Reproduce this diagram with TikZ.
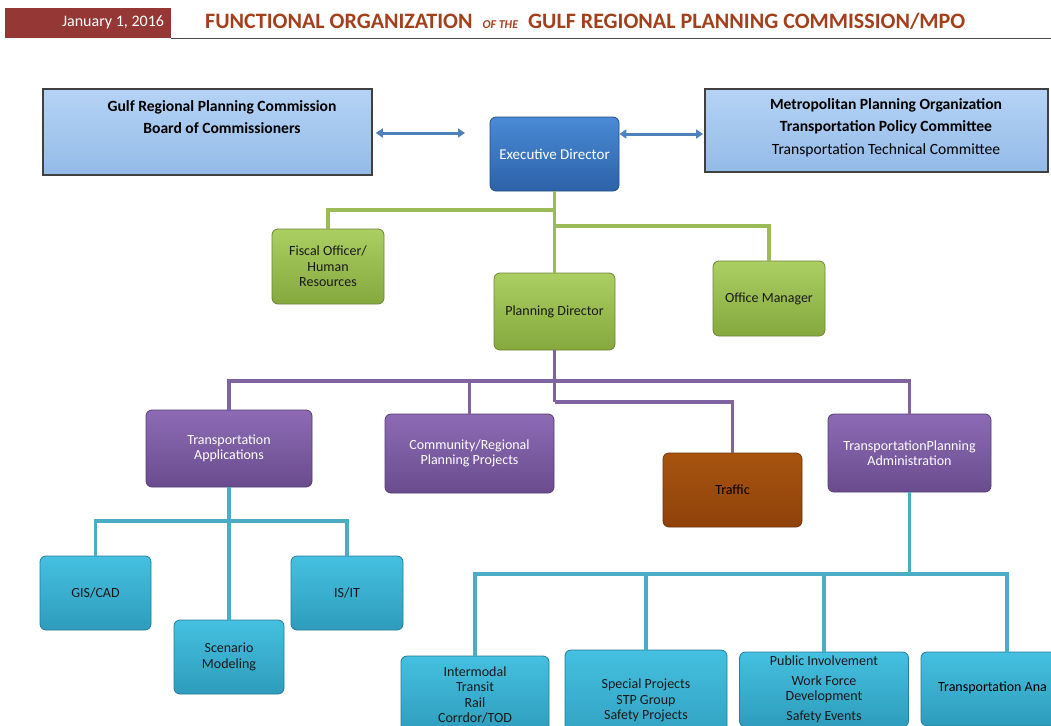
\documentclass[tikz,border=0pt]{standalone}
\usepackage{fontspec}
\setmainfont{Carlito}
\usetikzlibrary{arrows.meta}
\definecolor{hdrred}{HTML}{953735}
\definecolor{titlec}{HTML}{A3401C}
\definecolor{lbtop}{HTML}{B5D3F5}
\definecolor{lbbot}{HTML}{93BBE8}
\definecolor{arrc}{HTML}{4F81BD}
\definecolor{edtop}{HTML}{4A8AD6}
\definecolor{edbot}{HTML}{2C62A8}
\definecolor{gline}{HTML}{9BBB59}
\definecolor{gtop}{HTML}{ABCF62}
\definecolor{gbot}{HTML}{86A83E}
\definecolor{pline}{HTML}{8064A2}
\definecolor{ptop}{HTML}{8C6BB4}
\definecolor{pbot}{HTML}{6A4C8E}
\definecolor{ttop}{HTML}{A85410}
\definecolor{tbot}{HTML}{8E420A}
\definecolor{cline}{HTML}{4BACC6}
\definecolor{ctop}{HTML}{45C0E0}
\definecolor{cbot}{HTML}{2E9CBC}
\begin{document}
\begin{tikzpicture}[x=1pt,y=-1pt,
  txt/.style={font=\fontsize{14}{15.5}\selectfont, align=center},
  bigtxt/.style={font=\fontsize{15.6}{22.5}\selectfont, align=center},
  lightbox/.style={draw=black!75, line width=1.6pt, top color=lbtop, bottom color=lbbot},
  rbox/.style={rounded corners=6pt, line width=0.8pt, txt},
  execbox/.style={rbox, draw=edbot!80!black, top color=edtop, bottom color=edbot, text=white},
  greenbox/.style={rbox, draw=gbot!80!black, top color=gtop, bottom color=gbot, text=black!90},
  purplebox/.style={rbox, draw=pbot!80!black, top color=ptop, bottom color=pbot, text=white},
  trafficbox/.style={rbox, draw=tbot!80!black, top color=ttop, bottom color=tbot, text=black},
  cyanbox/.style={rbox, draw=cbot!80!black, top color=ctop, bottom color=cbot, text=black!90},
  gconn/.style={draw=gline, line width=3.5pt},
  pconn/.style={draw=pline, line width=3.5pt},
  cconn/.style={draw=cline, line width=3.5pt},
  arr/.style={draw=arrc, line width=3pt, {Triangle[width=9pt,length=7pt]}-{Triangle[width=9pt,length=7pt]}}
]
\useasboundingbox (0,0) rectangle (1051,725);
\clip (0,0) rectangle (1051,725);

% header
\fill[hdrred] (5,8) rectangle (171,38);
\node[text=white, font=\fontsize{16}{18}\selectfont] (date) at (113,22) {January 1, 2016};
\draw[black!70, line width=1pt] (171,38.5) -- (1051,38.5);
\node[anchor=base west, text=titlec, inner sep=0pt] (title) at (205,28.5)
  {\fontsize{22}{24}\selectfont\bfseries FUNCTIONAL ORGANIZATION\hspace{10pt}{\fontsize{12}{14}\selectfont\itshape OF THE}\hspace{10pt}GULF REGIONAL PLANNING COMMISSION/MPO};

% top row
\node[lightbox, minimum width=329pt, minimum height=86pt] (bc) at (207.5,132) {};
\node[bigtxt, font=\fontsize{15.6}{22}\selectfont\bfseries] (bctext) at (222,117) {Gulf Regional Planning Commission\\Board of Commissioners};
\node[lightbox, minimum width=343pt, minimum height=83pt] (mpo) at (876.5,130.5) {};
\node[bigtxt] (mpotext) at (886,127.5) {\textbf{Metropolitan Planning Organization}\\\textbf{Transportation Policy Committee}\\Transportation Technical Committee};
\node[execbox, minimum width=129pt, minimum height=74pt, font=\fontsize{15}{17}\selectfont] (ed) at (554.5,154) {Executive Director};

\coordinate (a1) at (465,133);
\draw[arr] (bc.east |- a1) ++(3,0) -- (a1);
\coordinate (a2) at (703,134);
\draw[arr] (ed.east |- a2) -- (a2);

% green level
\node[greenbox, minimum width=112pt, minimum height=75pt] (fo) at (328,266.5) {Fiscal Officer/\\Human\\Resources};
\node[greenbox, minimum width=121pt, minimum height=77pt] (pd) at (554.5,311.5) {Planning Director};
\node[greenbox, minimum width=112pt, minimum height=75pt] (om) at (769,298.5) {Office Manager};
\coordinate (gj1) at (554.5,210);
\coordinate (gj2) at (554.5,226);

% purple level
\node[purplebox, minimum width=166pt, minimum height=77pt] (ta) at (229,448.5) {Transportation\\Applications};
\node[purplebox, minimum width=169pt, minimum height=79pt] (cr) at (469.5,453.5) {Community/Regional\\Planning Projects};
\node[trafficbox, minimum width=139pt, minimum height=74pt] (tr) at (732.5,490) {Traffic};
\node[purplebox, minimum width=163pt, minimum height=78pt] (tpa) at (909.5,453) {TransportationPlanning\\Administration};
\coordinate (pj1) at (554.5,381);
\coordinate (pj2) at (554.5,402);

% cyan left
\node[cyanbox, minimum width=111pt, minimum height=74pt] (gis) at (95.5,593) {GIS/CAD};
\node[cyanbox, minimum width=112pt, minimum height=74pt] (isit) at (347,593) {IS/IT};
\node[cyanbox, minimum width=110pt, minimum height=74pt] (sm) at (229,657) {Scenario\\Modeling};
\coordinate (cj1) at (229,521);

% cyan right
\node[cyanbox, minimum width=148pt, minimum height=78pt] (im) at (475,695) {Intermodal\\Transit\\Rail\\Corrdor/TOD};
\node[cyanbox, minimum width=162pt, minimum height=101pt] (sp) at (646,700.5) {Special Projects\\STP Group\\Safety Projects};
\node[cyanbox, minimum width=169pt, minimum height=75pt] (pi) at (824,689.5) {Public Involvement\\[4pt]Work Force\\Development\\[4pt]Safety Events};
\node[cyanbox, minimum width=172pt, minimum height=74pt] (tan) at (1007,689) {};
\node[txt, anchor=west, inner sep=0pt] (tantext) at (938,688) {Transportation Ana};
\coordinate (cj2) at (909.5,574);

% connectors
\draw[gconn] (ed.south) -- (pd.north);
\draw[gconn] (fo.north) |- (gj1);
\draw[gconn] (om.north) |- (gj2);
\draw[pconn] (pd.south) -- (pj2);
\draw[pconn] (ta.north) |- (pj1);
\draw[pconn] (cr.north) |- (pj1);
\draw[pconn] (tpa.north) |- (pj1);
\draw[pconn] (tr.north) |- (pj2);
\draw[cconn] (ta.south) -- (sm.north);
\draw[cconn] (gis.north) |- (cj1);
\draw[cconn] (isit.north) |- (cj1);
\draw[cconn] (tpa.south) -- (cj2);
\draw[cconn] (im.north) |- (cj2);
\draw[cconn] (sp.north) |- (cj2);
\draw[cconn] (pi.north) |- (cj2);
\draw[cconn] (tan.north) |- (cj2);
\end{tikzpicture}
\end{document}
